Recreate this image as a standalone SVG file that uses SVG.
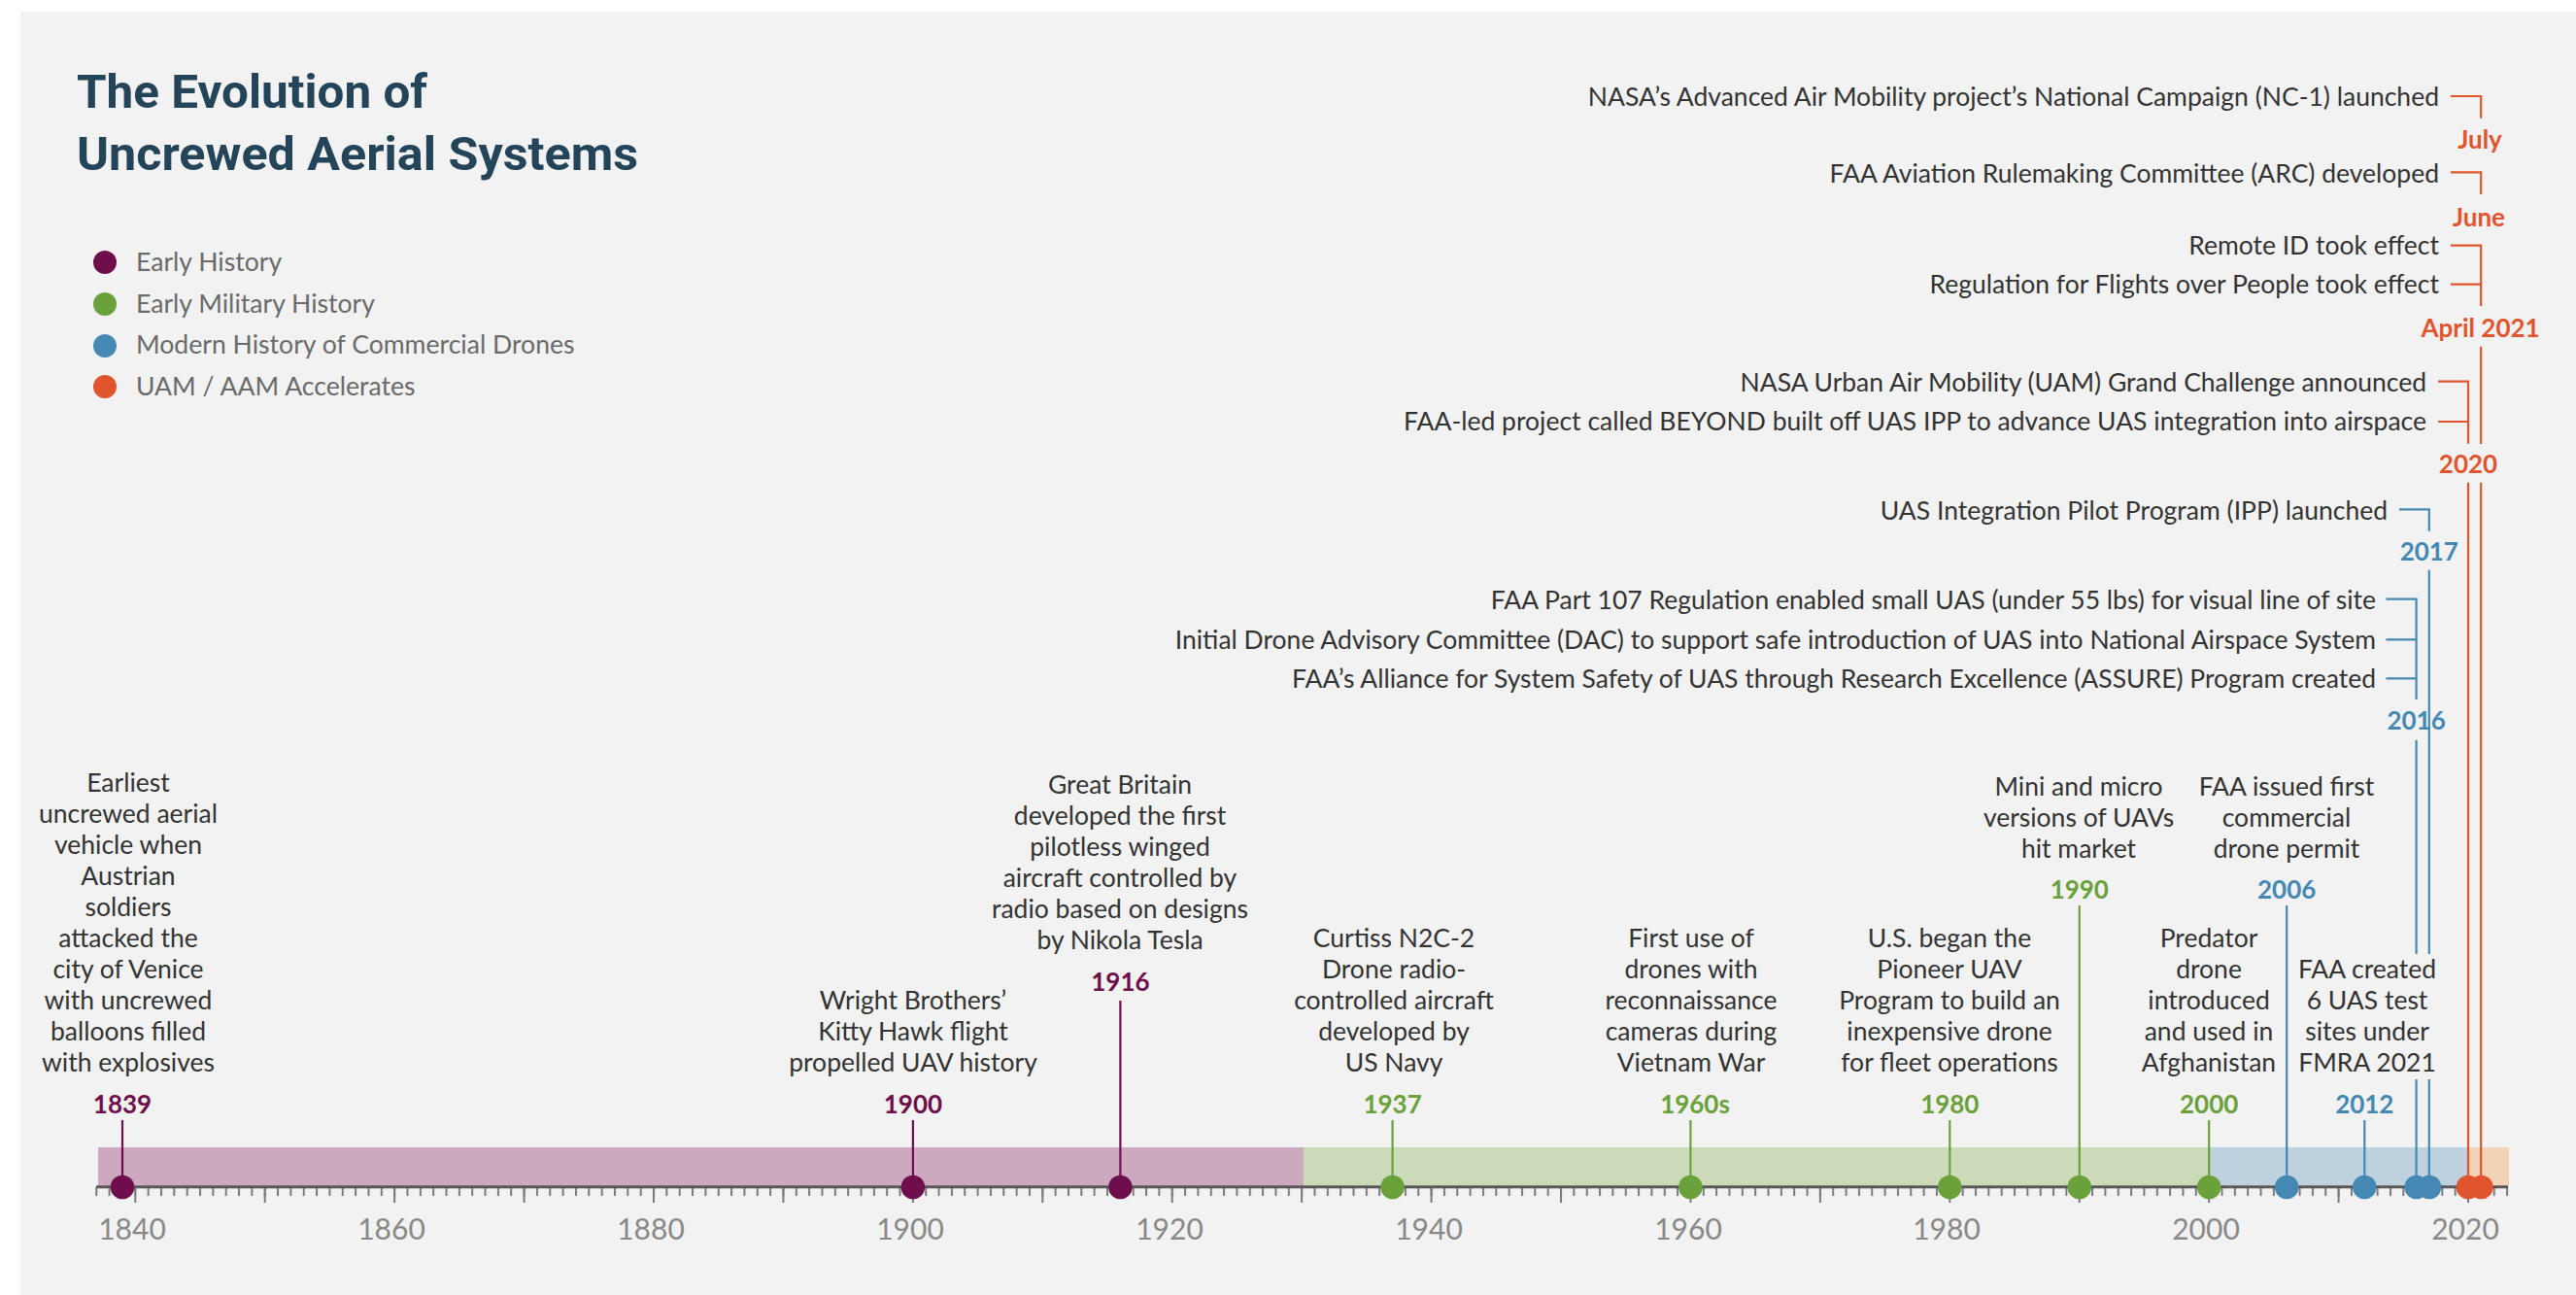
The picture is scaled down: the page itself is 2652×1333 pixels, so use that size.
<svg xmlns="http://www.w3.org/2000/svg" width="2652" height="1333" viewBox="0 0 2652 1333">
<style>
.title{font-family:Roboto,"Liberation Sans",sans-serif;font-weight:700;font-size:49px;fill:#234459}
.leg{font-family:Lato,"Liberation Sans",sans-serif;font-size:26.6px;fill:#6a6a6a}
.desc{font-family:Lato,"Liberation Sans",sans-serif;font-size:26.5px;fill:#333}
.dm{text-anchor:middle}
.de{text-anchor:end}
.yr{font-family:Lato,"Liberation Sans",sans-serif;font-weight:700;font-size:26px;text-anchor:middle}
.ax{font-family:Lato,"Liberation Sans",sans-serif;font-size:30px;fill:#888;text-anchor:middle}
.p{fill:#6e0f4b}.g{fill:#6aa13b}.b{fill:#4488b3}.o{fill:#e0552e}
.sp{stroke:#6e0f4b}.sg{stroke:#6aa13b}.sb{stroke:#4488b3}.so{stroke:#e0552e}
.st{fill:none;stroke-width:2.2}
</style>
<defs>
<pattern id="minor" patternUnits="userSpaceOnUse" x="138.3" y="0" width="13.343" height="1333"><rect x="0" y="0" width="2" height="1333" fill="#7a7a7a"/></pattern>
<pattern id="major" patternUnits="userSpaceOnUse" x="138.3" y="0" width="133.43" height="1333"><rect x="0" y="0" width="2" height="1333" fill="#7a7a7a"/></pattern>
</defs>
<rect x="0" y="0" width="2652" height="1333" fill="#ffffff"/>
<rect x="21" y="12" width="2631" height="1321" fill="#f2f2f2"/>

<g id="title">
<text class="title" x="79" y="111" textLength="361" lengthAdjust="spacingAndGlyphs">The Evolution of</text>
<text class="title" x="79" y="175" textLength="578" lengthAdjust="spacingAndGlyphs">Uncrewed Aerial Systems</text>
</g>

<g id="legend">
<circle cx="108" cy="270" r="12" class="p"/><text class="leg" x="140" y="279">Early History</text>
<circle cx="108" cy="313" r="12" class="g"/><text class="leg" x="140" y="322">Early Military History</text>
<circle cx="108" cy="356" r="12" class="b"/><text class="leg" x="140" y="364">Modern History of Commercial Drones</text>
<circle cx="108" cy="398" r="12" class="o"/><text class="leg" x="140" y="407">UAM / AAM Accelerates</text>
</g>

<g id="axis">
<rect x="101" y="1181" width="1241" height="41" fill="#cca9bf"/>
<rect x="1342" y="1181" width="932" height="41" fill="#cbdab9"/>
<rect x="2274" y="1181" width="267" height="41" fill="#bdd1df"/>
<rect x="2541" y="1181" width="42" height="41" fill="#f2d3b7"/>
<rect x="98" y="1222" width="2485" height="9" fill="url(#minor)"/>
<rect x="130" y="1222" width="2453" height="16" fill="url(#major)"/>
<line x1="99" y1="1221.7" x2="2582" y2="1221.7" stroke="#585858" stroke-width="3"/>
<text class="ax" x="136" y="1276">1840</text>
<text class="ax" x="403" y="1276">1860</text>
<text class="ax" x="670" y="1276">1880</text>
<text class="ax" x="937" y="1276">1900</text>
<text class="ax" x="1204" y="1276">1920</text>
<text class="ax" x="1471" y="1276">1940</text>
<text class="ax" x="1738" y="1276">1960</text>
<text class="ax" x="2004" y="1276">1980</text>
<text class="ax" x="2271" y="1276">2000</text>
<text class="ax" x="2538" y="1276">2020</text>
</g>

<g id="connectors">
<line class="st sp" x1="126" y1="1153" x2="126" y2="1222"/>
<line class="st sp" x1="939.9" y1="1153" x2="939.9" y2="1222"/>
<line class="st sp" x1="1153.4" y1="1030" x2="1153.4" y2="1222"/>
<line class="st sg" x1="1433.6" y1="1153" x2="1433.6" y2="1222"/>
<line class="st sg" x1="1740.4" y1="1153" x2="1740.4" y2="1222"/>
<line class="st sg" x1="2007.3" y1="1153" x2="2007.3" y2="1222"/>
<line class="st sg" x1="2140.8" y1="932" x2="2140.8" y2="1222"/>
<line class="st sg" x1="2274.2" y1="1153" x2="2274.2" y2="1222"/>
<line class="st sb" x1="2354.2" y1="932" x2="2354.2" y2="1222"/>
<line class="st sb" x1="2434.3" y1="1153" x2="2434.3" y2="1222"/>
<path class="st sb" d="M2456.4 616.7H2487.6V720M2456.4 658.3H2487.6M2456.4 698.3H2487.6M2487.6 761.7V982M2487.6 1111V1222"/>
<path class="st sb" d="M2470 524.3H2500.8V546.7M2500.8 586.7V982M2500.8 1111V1222"/>
<path class="st so" d="M2510 392.7H2541V456.7M2510 434H2541M2541 496.7V1222"/>
<path class="st so" d="M2523 99H2554.2V121.7M2523 177.3H2554.2V200M2523 252.7H2554.2V315M2523 292.7H2554.2M2554.2 356.7V457M2554.2 496.7V1222"/>
</g>

<g id="e1839">
<text class="desc dm" x="132" y="815"><tspan x="132" dy="0">Earliest</tspan><tspan x="132" dy="32">uncrewed aerial</tspan><tspan x="132" dy="32">vehicle when</tspan><tspan x="132" dy="32">Austrian</tspan><tspan x="132" dy="32">soldiers</tspan><tspan x="132" dy="32">attacked the</tspan><tspan x="132" dy="32">city of Venice</tspan><tspan x="132" dy="32">with uncrewed</tspan><tspan x="132" dy="32">balloons filled</tspan><tspan x="132" dy="32">with explosives</tspan></text>
<text class="yr p" x="126" y="1146">1839</text>
<circle cx="126" cy="1222" r="12.3" class="p"/>
</g>

<g id="e1900">
<text class="desc dm" x="940" y="1039"><tspan x="940" dy="0">Wright Brothers’</tspan><tspan x="940" dy="32">Kitty Hawk flight</tspan><tspan x="940" dy="32">propelled UAV history</tspan></text>
<text class="yr p" x="939.9" y="1146">1900</text>
<circle cx="939.9" cy="1222" r="12.3" class="p"/>
</g>

<g id="e1916">
<text class="desc dm" x="1153" y="817"><tspan x="1153" dy="0">Great Britain</tspan><tspan x="1153" dy="32">developed the first</tspan><tspan x="1153" dy="32">pilotless winged</tspan><tspan x="1153" dy="32">aircraft controlled by</tspan><tspan x="1153" dy="32">radio based on designs</tspan><tspan x="1153" dy="32">by Nikola Tesla</tspan></text>
<text class="yr p" x="1153.4" y="1020">1916</text>
<circle cx="1153.4" cy="1222" r="12.3" class="p"/>
</g>

<g id="e1937">
<text class="desc dm" x="1435" y="975"><tspan x="1435" dy="0">Curtiss N2C-2</tspan><tspan x="1435" dy="32">Drone radio-</tspan><tspan x="1435" dy="32">controlled aircraft</tspan><tspan x="1435" dy="32">developed by</tspan><tspan x="1435" dy="32">US Navy</tspan></text>
<text class="yr g" x="1433.6" y="1146">1937</text>
<circle cx="1433.6" cy="1222" r="12.3" class="g"/>
</g>

<g id="e1960s">
<text class="desc dm" x="1741" y="975"><tspan x="1741" dy="0">First use of</tspan><tspan x="1741" dy="32">drones with</tspan><tspan x="1741" dy="32">reconnaissance</tspan><tspan x="1741" dy="32">cameras during</tspan><tspan x="1741" dy="32">Vietnam War</tspan></text>
<text class="yr g" x="1745" y="1146">1960s</text>
<circle cx="1740.4" cy="1222" r="12.3" class="g"/>
</g>

<g id="e1980">
<text class="desc dm" x="2007" y="975"><tspan x="2007" dy="0">U.S. began the</tspan><tspan x="2007" dy="32">Pioneer UAV</tspan><tspan x="2007" dy="32">Program to build an</tspan><tspan x="2007" dy="32">inexpensive drone</tspan><tspan x="2007" dy="32">for fleet operations</tspan></text>
<text class="yr g" x="2007.3" y="1146">1980</text>
<circle cx="2007.3" cy="1222" r="12.3" class="g"/>
</g>

<g id="e1990">
<text class="desc dm" x="2140" y="818.5"><tspan x="2140" dy="0">Mini and micro</tspan><tspan x="2140" dy="32">versions of UAVs</tspan><tspan x="2140" dy="32">hit market</tspan></text>
<text class="yr g" x="2140.8" y="924.5">1990</text>
<circle cx="2140.8" cy="1222" r="12.3" class="g"/>
</g>

<g id="e2000">
<text class="desc dm" x="2274" y="975"><tspan x="2274" dy="0">Predator</tspan><tspan x="2274" dy="32">drone</tspan><tspan x="2274" dy="32">introduced</tspan><tspan x="2274" dy="32">and used in</tspan><tspan x="2274" dy="32">Afghanistan</tspan></text>
<text class="yr g" x="2274.2" y="1146">2000</text>
<circle cx="2274.2" cy="1222" r="12.3" class="g"/>
</g>

<g id="e2006">
<text class="desc dm" x="2354" y="818.5"><tspan x="2354" dy="0">FAA issued first</tspan><tspan x="2354" dy="32">commercial</tspan><tspan x="2354" dy="32">drone permit</tspan></text>
<text class="yr b" x="2354.2" y="924.5">2006</text>
<circle cx="2354.2" cy="1222" r="12.3" class="b"/>
</g>

<g id="e2012">
<text class="desc dm" x="2437" y="1007"><tspan x="2437" dy="0">FAA created</tspan><tspan x="2437" dy="32">6 UAS test</tspan><tspan x="2437" dy="32">sites under</tspan><tspan x="2437" dy="32">FMRA 2021</tspan></text>
<text class="yr b" x="2434.3" y="1146">2012</text>
<circle cx="2434.3" cy="1222" r="12.3" class="b"/>
</g>

<g id="e2016">
<text class="desc de" x="2446" y="627">FAA Part 107 Regulation enabled small UAS (under 55 lbs) for visual line of site</text>
<text class="desc de" x="2446" y="668">Initial Drone Advisory Committee (DAC) to support safe introduction of UAS into National Airspace System</text>
<text class="desc de" x="2446" y="708">FAA’s Alliance for System Safety of UAS through Research Excellence (ASSURE) Program created</text>
<text class="yr b" x="2487.6" y="751">2016</text>
<circle cx="2487.7" cy="1222" r="12.3" class="b"/>
</g>

<g id="e2017">
<text class="desc de" x="2458" y="535">UAS Integration Pilot Program (IPP) launched</text>
<text class="yr b" x="2500.8" y="577">2017</text>
<circle cx="2501" cy="1222" r="12.3" class="b"/>
</g>

<g id="e2020">
<text class="desc de" x="2498" y="403">NASA Urban Air Mobility (UAM) Grand Challenge announced</text>
<text class="desc de" x="2498" y="443">FAA-led project called BEYOND built off UAS IPP to advance UAS integration into airspace</text>
<text class="yr o" x="2541" y="487">2020</text>
<circle cx="2541" cy="1222" r="12.3" class="o"/>
</g>

<g id="e2021">
<text class="desc de" x="2511" y="109">NASA’s Advanced Air Mobility project’s National Campaign (NC-1) launched</text>
<text class="yr o" x="2553" y="153">July</text>
<text class="desc de" x="2511" y="188">FAA Aviation Rulemaking Committee (ARC) developed</text>
<text class="yr o" x="2552" y="233">June</text>
<text class="desc de" x="2511" y="262">Remote ID took effect</text>
<text class="desc de" x="2511" y="302">Regulation for Flights over People took effect</text>
<text class="yr o" x="2553.6" y="347">April 2021</text>
<circle cx="2554.4" cy="1222" r="12.3" class="o"/>
</g>
</svg>
